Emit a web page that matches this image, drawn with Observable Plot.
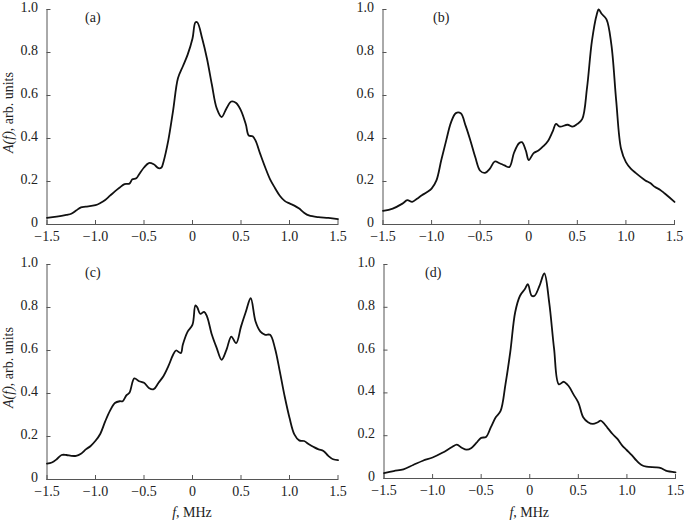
<!DOCTYPE html>
<html><head><meta charset="utf-8">
<script src="https://cdn.jsdelivr.net/npm/d3@7"></script>
<script src="https://cdn.jsdelivr.net/npm/@observablehq/plot@0.6"></script>
<style>
body{margin:0;background:#fff;}
#fig{position:relative;width:685px;height:522px;font-family:"Liberation Serif",serif;overflow:hidden;}
#fig svg{position:absolute;overflow:visible;}
</style></head><body><div id="fig"></div>
<script>
// ---- data ----
const xTicks = [-1.5, -1.0, -0.5, 0, 0.5, 1.0, 1.5];
const yTicks = [0, 0.2, 0.4, 0.6, 0.8, 1.0];
const panelLabels = ["(a)", "(b)", "(c)", "(d)"];
const yAxisTitle = ["A(f)", ", arb. units"];
const xAxisTitle = ["f", ", MHz"];

const freqA = [-1.5,-1.4,-1.3,-1.25,-1.2,-1.15,-1.1,-1.0,-0.95,-0.9,-0.85,-0.8,-0.75,-0.7,-0.65,-0.62,-0.58,-0.55,-0.5,-0.45,-0.4,-0.35,-0.32,-0.3,-0.25,-0.2,-0.15,-0.1,-0.05,0,0.03,0.05,0.1,0.15,0.2,0.25,0.3,0.35,0.4,0.45,0.5,0.55,0.58,0.62,0.65,0.7,0.75,0.8,0.85,0.9,0.95,1.0,1.05,1.1,1.15,1.2,1.3,1.4,1.5];
const ampA  = [0.031,0.037,0.045,0.05,0.065,0.08,0.083,0.09,0.1,0.114,0.134,0.154,0.172,0.188,0.19,0.21,0.215,0.234,0.265,0.286,0.28,0.262,0.265,0.29,0.39,0.53,0.68,0.735,0.79,0.865,0.94,0.94,0.865,0.77,0.65,0.54,0.5,0.54,0.572,0.565,0.53,0.465,0.414,0.41,0.39,0.326,0.265,0.21,0.17,0.134,0.11,0.098,0.088,0.074,0.055,0.042,0.034,0.031,0.025];

const freqB = [-1.5,-1.4,-1.3,-1.25,-1.2,-1.15,-1.1,-1.05,-1.0,-0.95,-0.9,-0.85,-0.8,-0.75,-0.7,-0.65,-0.6,-0.55,-0.5,-0.45,-0.4,-0.35,-0.3,-0.25,-0.2,-0.15,-0.1,-0.07,-0.03,0,0.05,0.1,0.15,0.2,0.25,0.28,0.32,0.4,0.45,0.5,0.55,0.6,0.65,0.7,0.72,0.75,0.8,0.85,0.9,0.95,1.0,1.05,1.1,1.2,1.25,1.3,1.35,1.4,1.5];
const ampB  = [0.063,0.074,0.097,0.113,0.105,0.12,0.136,0.15,0.167,0.205,0.3,0.39,0.475,0.518,0.517,0.46,0.39,0.313,0.25,0.24,0.26,0.293,0.285,0.275,0.267,0.336,0.378,0.383,0.344,0.3,0.332,0.344,0.364,0.39,0.437,0.468,0.455,0.464,0.455,0.468,0.49,0.637,0.853,0.977,1.0,0.98,0.954,0.838,0.576,0.352,0.29,0.26,0.24,0.205,0.193,0.174,0.162,0.144,0.105];

const freqC = [-1.5,-1.45,-1.4,-1.35,-1.3,-1.25,-1.2,-1.15,-1.1,-1.05,-1.0,-0.95,-0.9,-0.85,-0.8,-0.75,-0.72,-0.68,-0.65,-0.6,-0.55,-0.5,-0.45,-0.4,-0.35,-0.3,-0.25,-0.2,-0.17,-0.12,-0.1,-0.05,0,0.03,0.05,0.08,0.12,0.15,0.2,0.25,0.3,0.35,0.4,0.45,0.5,0.55,0.6,0.65,0.7,0.75,0.8,0.85,0.9,0.95,1.0,1.05,1.1,1.15,1.2,1.25,1.3,1.35,1.4,1.45,1.5];
const ampC  = [0.074,0.079,0.094,0.114,0.114,0.11,0.11,0.12,0.14,0.156,0.18,0.213,0.27,0.32,0.356,0.364,0.364,0.392,0.403,0.47,0.457,0.45,0.426,0.42,0.45,0.48,0.526,0.58,0.6,0.588,0.627,0.688,0.72,0.81,0.8,0.77,0.78,0.758,0.673,0.611,0.557,0.603,0.665,0.634,0.711,0.78,0.843,0.735,0.688,0.673,0.673,0.611,0.503,0.387,0.287,0.21,0.182,0.179,0.164,0.151,0.14,0.133,0.11,0.094,0.09];

const freqD = [-1.5,-1.4,-1.3,-1.2,-1.1,-1.0,-0.9,-0.8,-0.75,-0.7,-0.65,-0.6,-0.55,-0.5,-0.45,-0.4,-0.35,-0.3,-0.25,-0.2,-0.15,-0.1,-0.05,-0.02,0.02,0.05,0.1,0.15,0.2,0.25,0.3,0.35,0.4,0.45,0.5,0.55,0.6,0.65,0.7,0.73,0.8,0.85,0.9,0.95,1.0,1.05,1.1,1.15,1.2,1.3,1.35,1.4,1.5];
const ampD  = [0.025,0.035,0.043,0.063,0.083,0.098,0.12,0.147,0.158,0.144,0.135,0.143,0.166,0.19,0.194,0.24,0.286,0.316,0.44,0.593,0.777,0.854,0.885,0.908,0.854,0.854,0.9,0.958,0.823,0.608,0.44,0.452,0.432,0.393,0.355,0.286,0.263,0.255,0.263,0.27,0.237,0.209,0.186,0.155,0.132,0.109,0.083,0.063,0.055,0.052,0.048,0.037,0.029];

// ---- drawing ----
const fig = document.getElementById("fig");
const fmt = d => d === 0 ? "0" : d3.format(".1f")(d);
const FONT = '"Liberation Serif", "Times New Roman", serif';

function panel(freq, amp, label, o) {
  const data = freq.map((f, i) => ({f, a: amp[i]}));
  const svg = Plot.plot({
    width: 345, height: o.height,
    marginLeft: o.ml, marginRight: o.mr, marginTop: o.mt, marginBottom: o.mb,
    x: {domain: [-1.5, 1.5]},
    y: {domain: [0, 1]},
    style: {fontFamily: FONT, fontSize: "14px", color: "#222", background: "transparent", overflow: "visible"},
    marks: [
      Plot.frame({anchor: "left", stroke: "#555", strokeWidth: 1}),
      Plot.frame({anchor: "bottom", stroke: "#555", strokeWidth: 1}),
      Plot.axisX({ticks: xTicks, tickFormat: fmt, tickSize: -4, tickPadding: 11, stroke: "#555", label: null, fontSize: 14}),
      Plot.axisY({ticks: yTicks, tickFormat: () => "", tickSize: -4, stroke: "#555", label: null}),
      Plot.axisY({ticks: yTicks, tickFormat: fmt, tickSize: 0, tickPadding: 9, dy: -2, label: null, fontSize: 14}),
      Plot.line(data, {x: "f", y: "a", stroke: "#111", strokeWidth: 1.8, curve: "catmull-rom"}),
      Plot.text([label], {frameAnchor: "top-left", dx: o.ldx, dy: o.ldy, fontSize: 14, fill: "#222"})
    ]
  });
  svg.style.left = o.left + "px";
  svg.style.top = o.top + "px";
  fig.appendChild(svg);
  const s = d3.select(svg);
  if (o.yTitle) {
    const cy = (o.mt + (o.height - o.mb)) / 2 - 4;
    const t = s.append("text").attr("transform", `translate(13,${cy}) rotate(-90)`)
      .attr("text-anchor", "middle").attr("font-size", 14).attr("fill", "#222").attr("font-family", FONT);
    t.append("tspan").attr("font-style", "italic").text(yAxisTitle[0]);
    t.append("tspan").text(yAxisTitle[1]);
  }
  if (o.xTitle) {
    const cx = (o.ml + (345 - o.mr)) / 2;
    const t = s.append("text").attr("x", cx).attr("y", o.height - 5)
      .attr("text-anchor", "middle").attr("font-size", 14).attr("fill", "#222").attr("font-family", FONT);
    t.append("tspan").attr("font-style", "italic").text(xAxisTitle[0]);
    t.append("tspan").text(xAxisTitle[1]);
  }
}

panel(freqA, ampA, panelLabels[0], {left: 0,   top: 0,   height: 250, ml: 46.5, mr: 7.5, mt: 9,  mb: 26, ldx: 38, ldy: 3, yTitle: true});
panel(freqB, ampB, panelLabels[1], {left: 340, top: 0,   height: 250, ml: 42.5, mr: 11,  mt: 9,  mb: 26, ldx: 50, ldy: 3});
panel(freqC, ampC, panelLabels[2], {left: 0,   top: 250, height: 272, ml: 46.5, mr: 7.5, mt: 14, mb: 43, ldx: 38, ldy: 3, yTitle: true, xTitle: true});
panel(freqD, ampD, panelLabels[3], {left: 340, top: 250, height: 272, ml: 43.5, mr: 10,  mt: 14, mb: 44, ldx: 41, ldy: 3, xTitle: true});
</script>
</body></html>
